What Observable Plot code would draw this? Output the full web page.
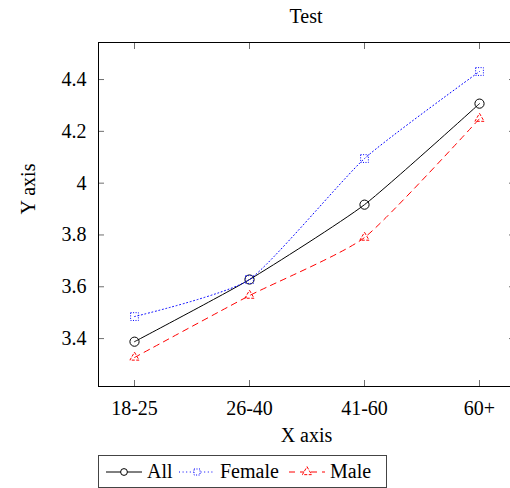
<!DOCTYPE html>
<html>
<head>
<meta charset="utf-8">
<script src="https://cdn.jsdelivr.net/npm/d3@7"></script>
<script src="https://cdn.jsdelivr.net/npm/@observablehq/plot@0.6"></script>
<style>
  html, body { margin: 0; padding: 0; background: #fff; overflow: hidden; width: 510px; height: 488px; }
  #wrap { position: relative; width: 516px; font-family: "Liberation Serif", "DejaVu Serif", serif; color: #000; }
  #wrap, #wrap * { font-family: "Liberation Serif", "DejaVu Serif", serif !important; }
  #title { height: 32px; line-height: 32px; margin-left: 98px; width: 416px; text-align: center; font-size: 20px; }
  #chart svg { display: block; overflow: visible; }
  #legend { position: absolute; left: 98px; top: 455px; height: 33px; border: 1px solid #444; box-sizing: border-box;
            display: flex; align-items: center; padding-left: 7px; padding-right: 10px; font-size: 20px; background: #fff; }
  #legend .item { display: flex; align-items: center; margin-right: 3px; }
  #legend .item:last-child { margin-right: 0; }
  #legend svg { display: block; margin-right: 5px; }
  #legend span { display: inline-block; white-space: nowrap; }
</style>
</head>
<body>
<div id="wrap">
  <div id="title">Test</div>
  <div id="chart"></div>
  <div id="legend"></div>
</div>
<script>
// ---- data ----
const groups = ["18-25", "26-40", "41-60", "60+"];
const seriesNames = ["All", "Female", "Male"];
const allValues = [3.388, 3.628, 3.917, 4.307];
const femaleValues = [3.485, 3.628, 4.095, 4.431];
const maleValues = [3.327, 3.566, 3.790, 4.249];
const yTicks = [3.4, 3.6, 3.8, 4, 4.2, 4.4];
const xLabel = "X axis";
const yLabel = "Y axis";

// ---- styles ----
const styles = {
  All:    {stroke: "#000000", dash: null,    markDash: null,      symbol: "circle",   r: 4.6, legendW: 29},
  Female: {stroke: "#0000ff", dash: "1,2.6", markDash: "1,1.5",   symbol: "square",   r: 4.4, legendW: 66},
  Male:   {stroke: "#ff0000", dash: "6,5",   markDash: "3,1.5",   symbol: "triangle", r: 3.4, legendW: 46}
};
const seriesValues = {All: allValues, Female: femaleValues, Male: maleValues};

const rows = seriesNames.flatMap(s => groups.map((g, i) => ({series: s, group: g, value: seriesValues[s][i]})));

const fam = "Liberation Serif, DejaVu Serif, serif";
const tickStroke = "#6f6f6f";

const marks = [];
for (const s of seriesNames) {
  const st = styles[s];
  const d = rows.filter(r => r.series === s);
  marks.push(Plot.line(d, {x: "group", y: "value", stroke: st.stroke, strokeWidth: 1, strokeDasharray: st.dash, curve: "cardinal", tension: 0.45}));
}
for (const s of seriesNames) {
  const st = styles[s];
  const d = rows.filter(r => r.series === s);
  marks.push(Plot.dot(d, {x: "group", y: "value", stroke: st.stroke, fill: "none", strokeWidth: 1, strokeDasharray: st.markDash, symbol: st.symbol, r: st.r}));
}

const plot = Plot.plot({
  width: 516,
  height: 416,
  marginLeft: 98,
  marginRight: 2,
  marginTop: 10,
  marginBottom: 62,
  style: {fontFamily: fam, fontSize: "20px", background: "white", color: "black"},
  x: {type: "point", domain: groups, padding: 0.3, axis: null},
  y: {domain: [3.215, 4.543], axis: null},
  marks: [
    ...marks,
    Plot.axisX({anchor: "bottom", tickSize: -6, tickPadding: 20, stroke: tickStroke, fill: "black", fontSize: 20, fontFamily: fam, label: null}),
    Plot.axisX({anchor: "top", tickSize: -6, tickFormat: () => "", stroke: tickStroke, label: null}),
    Plot.axisY({anchor: "left", ticks: yTicks, tickSize: -6, tickPadding: 18, stroke: tickStroke, fill: "black", fontSize: 20, fontFamily: fam, label: null,
                tickFormat: d => `${+d.toFixed(1)}`}),
    Plot.axisY({anchor: "right", ticks: yTicks, tickSize: -6, tickFormat: () => "", stroke: tickStroke, label: null}),
    Plot.frame({stroke: "black", strokeWidth: 1}),
    Plot.text([xLabel], {frameAnchor: "bottom", dy: 49, text: d => d, lineAnchor: "middle", fontSize: 20, fontFamily: fam}),
    Plot.text([yLabel], {frameAnchor: "left", dx: -70, rotate: -90, text: d => d, lineAnchor: "middle", fontSize: 20, fontFamily: fam})
  ]
});
document.getElementById("chart").appendChild(plot);

// ---- legend ----
const legend = d3.select("#legend");
for (const s of seriesNames) {
  const st = styles[s];
  const item = legend.append("div").attr("class", "item");
  const svg = item.append("svg").attr("width", 36).attr("height", 14);
  svg.append("line").attr("x1", 0).attr("x2", 36).attr("y1", 7).attr("y2", 7)
    .attr("stroke", st.stroke).attr("stroke-width", 1).attr("stroke-dasharray", st.dash);
  const sym = {circle: d3.symbolCircle, square: d3.symbolSquare, triangle: d3.symbolTriangle}[st.symbol];
  svg.append("path").attr("transform", "translate(18,7)")
    .attr("d", d3.symbol(sym, Math.PI * 3.4 * 3.4)())
    .attr("fill", "white").attr("stroke", st.stroke).attr("stroke-width", 1)
    .attr("stroke-dasharray", st.markDash);
  item.append("span").style("width", st.legendW + "px").text(s);
}
</script>
</body>
</html>
